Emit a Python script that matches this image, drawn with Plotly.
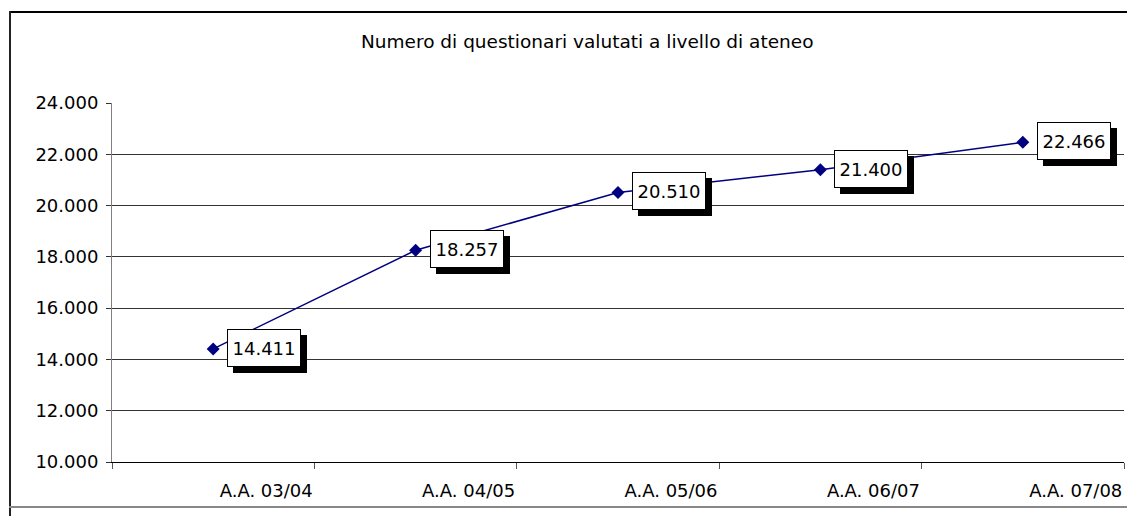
import plotly.graph_objects as go

categories = ["A.A. 03/04", "A.A. 04/05", "A.A. 05/06", "A.A. 06/07", "A.A. 07/08"]
values = [14411, 18257, 20510, 21400, 22466]
title_text = "Numero di questionari valutati a livello di ateneo"
y_range = [10000, 24000]
y_step = 2000

# page body has an 8px margin: work in reference pixels, shifted by OFF
OFF = 8
W, H = 1135 - OFF, 516 - OFF
L, R, T, B = 112 - OFF, 11, 103 - OFF, 54
pw, ph = W - L - R, H - T - B

def px_x(p):
    return (p - OFF - L) / pw

def px_y(p):
    return (H - B - (p - OFF)) / ph

FONT = "DejaVu Sans"
NAVY = "#000080"

fig = go.Figure()
fig.add_trace(go.Scatter(
    x=categories, y=values, mode="lines+markers",
    line=dict(color=NAVY, width=1.5),
    marker=dict(symbol="diamond", size=10, color=NAVY),
    showlegend=False, hoverinfo="skip",
))

def fmt(v):
    return f"{v:,}".replace(",", ".")

annotations = []
for c, v in zip(categories, values):
    # drop shadow of the data label box
    annotations.append(dict(
        x=c, y=v, xref="x", yref="y", text=" ", showarrow=False,
        xanchor="left", yanchor="middle", xshift=20, yshift=-5,
        font=dict(family=FONT, size=18, color="black"),
        bgcolor="black", bordercolor="black", borderwidth=1, borderpad=4,
        width=64, height=28,
    ))
    annotations.append(dict(
        x=c, y=v, xref="x", yref="y", text=fmt(v), showarrow=False,
        xanchor="left", yanchor="middle", xshift=14, yshift=1,
        font=dict(family=FONT, size=18, color="black"),
        bgcolor="white", bordercolor="black", borderwidth=1, borderpad=4,
        width=64, height=28,
    ))

annotations.append(dict(
    x=px_x(587), y=px_y(42), xref="paper", yref="paper", text=title_text,
    showarrow=False, xanchor="center", yanchor="middle",
    font=dict(family=FONT, size=18.5, color="black"),
))

shapes = [
    dict(type="line", xref="paper", yref="paper", x0=px_x(9), x1=px_x(1140),
         y0=px_y(12), y1=px_y(12), line=dict(color="black", width=2)),
    dict(type="line", xref="paper", yref="paper", x0=px_x(10), x1=px_x(10),
         y0=px_y(11), y1=px_y(520), line=dict(color="#222222", width=2)),
    dict(type="line", xref="paper", yref="paper", x0=px_x(9), x1=px_x(1140),
         y0=px_y(507), y1=px_y(507), line=dict(color="#888888", width=2)),
]

fig.update_layout(
    width=W, height=H,
    margin=dict(l=L, r=R, t=T, b=B, pad=0),
    paper_bgcolor="white", plot_bgcolor="white",
    separators=",.",
    font=dict(family=FONT, size=18, color="black"),
    annotations=annotations, shapes=shapes,
    xaxis=dict(
        type="category", categoryorder="array", categoryarray=categories,
        tickson="boundaries", ticks="outside", ticklen=6, tickcolor="#555555",
        showline=True, linecolor="black", linewidth=1,
        showgrid=False, zeroline=False,
        ticklabelshift=53, ticklabelstandoff=12,
        tickfont=dict(family=FONT, size=18, color="black"),
        range=[-0.5, 4.5],
    ),
    yaxis=dict(
        range=y_range, dtick=y_step, tick0=y_range[0], tickformat=",d",
        ticks="outside", ticklen=5, tickcolor="#333333",
        showline=True, linecolor="#808080", linewidth=1,
        showgrid=True, gridcolor="#333333", gridwidth=1, zeroline=False,
        ticklabelstandoff=4,
        tickfont=dict(family=FONT, size=18, color="black"),
    ),
)

fig.write_html("out.html")
